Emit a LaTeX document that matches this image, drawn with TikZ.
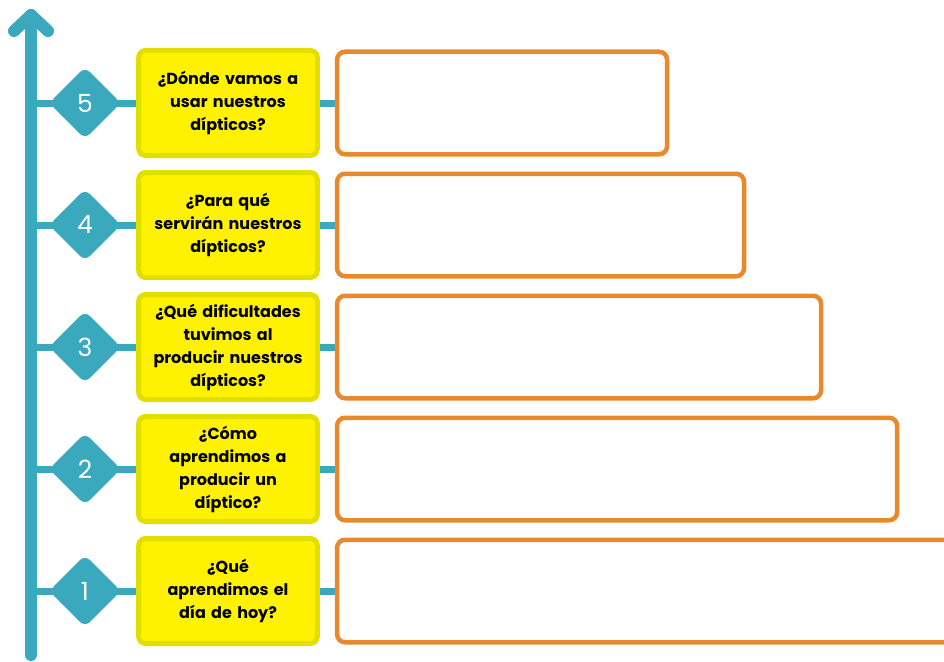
\documentclass[tikz,border=0pt]{standalone}
\usepackage{fontspec}
\setmainfont{Poppins}
\usetikzlibrary{shapes.geometric,positioning,backgrounds}
\definecolor{lineateal}{HTML}{3AA8BD}
\definecolor{preguntafill}{HTML}{FFF200}
\definecolor{preguntaborde}{HTML}{E2DE00}
\definecolor{respuestaborde}{HTML}{E8892C}
\tikzstyle{pregunta} = [rectangle, draw=preguntaborde, line width=5pt, rounded corners=7pt,
    fill=preguntafill, minimum width=175pt, minimum height=105pt, text width=172pt,
    align=center, font=\fontsize{16}{23}\selectfont\bfseries]
\tikzstyle{respuesta} = [rectangle, draw=respuestaborde, line width=4.5pt, rounded corners=8pt,
    fill=white, minimum height=102.5pt]
\tikzstyle{numero} = [diamond, fill=lineateal, rounded corners=7pt, minimum size=72pt,
    inner sep=0pt, text=white, font=\fontsize{25}{25}\selectfont]
\tikzstyle{rama} = [lineateal, line width=7pt]
\tikzstyle{eje} = [lineateal, line width=12pt, line cap=round, line join=round]

\begin{document}
\begin{tikzpicture}[x=1pt, y=-1pt, node distance=12pt]
\useasboundingbox (0,0) rectangle (944,661);
\clip (0,0) rectangle (944,661);
\node[pregunta] (q5) at (228,103) {¿Dónde vamos a\\ usar nuestros\\ dípticos?};
\node[pregunta, below=of q5] (q4) {¿Para qué\\ servirán nuestros\\ dípticos?};
\node[pregunta, below=of q4] (q3) {¿Qué dificultades\\ tuvimos al\\ producir nuestros\\ dípticos?};
\node[pregunta, below=of q3] (q2) {¿Cómo\\ aprendimos a\\ producir un\\ díptico?};
\node[pregunta, below=of q2] (q1) {¿Qué\\ aprendimos el\\ día de hoy?};

\node[numero, left=15pt of q5] (n5) {5};
\node[numero, left=15pt of q4] (n4) {4};
\node[numero, left=15pt of q3] (n3) {3};
\node[numero, left=15pt of q2] (n2) {2};
\node[numero, left=15pt of q1] (n1) {1};

\node[respuesta, right=15pt of q5, minimum width=330pt] (r5) {};
\node[respuesta, right=15pt of q4, minimum width=407pt] (r4) {};
\node[respuesta, right=15pt of q3, minimum width=484pt] (r3) {};
\node[respuesta, right=15pt of q2, minimum width=560pt] (r2) {};
\node[respuesta, right=15pt of q1, minimum width=660pt] (r1) {};

\coordinate (punta) at (31,15);
\coordinate (base) at (31,655);

\begin{scope}[on background layer]
\draw[eje] (punta) -- (base);
\draw[eje] (14,31) -- (punta) -- (48,31);
\draw[rama] (n5 -| punta) -- (q5.west);
\draw[rama] (n4 -| punta) -- (q4.west);
\draw[rama] (n3 -| punta) -- (q3.west);
\draw[rama] (n2 -| punta) -- (q2.west);
\draw[rama] (n1 -| punta) -- (q1.west);
\draw[rama] (q5.east) -- (r5.west);
\draw[rama] (q4.east) -- (r4.west);
\draw[rama] (q3.east) -- (r3.west);
\draw[rama] (q2.east) -- (r2.west);
\draw[rama] (q1.east) -- (r1.west);
\end{scope}
\end{tikzpicture}
\end{document}
